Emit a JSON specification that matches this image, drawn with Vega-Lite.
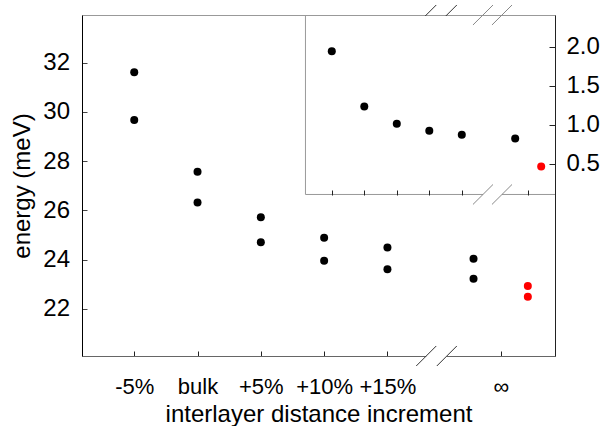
{
  "$schema": "https://vega.github.io/schema/vega-lite/v6.json",
  "width": 473,
  "height": 341,
  "autosize": "none",
  "padding": {"left": 82, "top": 15, "right": 48, "bottom": 70},
  "config": {
    "view": {"stroke": "#999999", "strokeWidth": 1},
    "font": "Liberation Sans",
    "axis": {"labelColor": "#000000", "titleColor": "#000000", "labelFont": "Liberation Sans", "titleFont": "Liberation Sans", "grid": false}
  },
  "datasets": {
    "main": [
      {"label": "-5%", "pos": 0, "energy": 31.62, "series": "calc"},
      {"label": "-5%", "pos": 0, "energy": 29.67, "series": "calc"},
      {"label": "bulk", "pos": 1, "energy": 27.57, "series": "calc"},
      {"label": "bulk", "pos": 1, "energy": 26.32, "series": "calc"},
      {"label": "+5%", "pos": 2, "energy": 25.72, "series": "calc"},
      {"label": "+5%", "pos": 2, "energy": 24.71, "series": "calc"},
      {"label": "+10%", "pos": 3, "energy": 24.89, "series": "calc"},
      {"label": "+10%", "pos": 3, "energy": 23.95, "series": "calc"},
      {"label": "+15%", "pos": 4, "energy": 24.49, "series": "calc"},
      {"label": "+15%", "pos": 4, "energy": 23.61, "series": "calc"},
      {"label": "∞", "pos": 5.36, "energy": 24.03, "series": "calc"},
      {"label": "∞", "pos": 5.36, "energy": 23.22, "series": "calc"},
      {"label": "∞", "pos": 6.218, "energy": 22.93, "series": "ref"},
      {"label": "∞", "pos": 6.218, "energy": 22.49, "series": "ref"}
    ],
    "inset": [
      {"label": "-5%", "pos": 0, "energy": 1.94, "series": "calc"},
      {"label": "bulk", "pos": 1, "energy": 1.23, "series": "calc"},
      {"label": "+5%", "pos": 2, "energy": 1.01, "series": "calc"},
      {"label": "+10%", "pos": 3, "energy": 0.92, "series": "calc"},
      {"label": "+15%", "pos": 4, "energy": 0.87, "series": "calc"},
      {"label": "∞", "pos": 5.643, "energy": 0.82, "series": "calc"},
      {"label": "∞", "pos": 6.443, "energy": 0.46, "series": "ref"}
    ],
    "mainBreaks": [
      {"xa": 4.455, "xb": 4.771, "ya": 19.675, "yb": 20.488},
      {"xa": 4.78, "xb": 5.096, "ya": 19.675, "yb": 20.488},
      {"xa": 4.455, "xb": 4.771, "ya": 33.537, "yb": 34.35},
      {"xa": 4.78, "xb": 5.096, "ya": 33.537, "yb": 34.35}
    ],
    "mainGap": [{"xa": 4.613, "xb": 4.938, "ya": 20.081}],
    "insetBox": [{"xa": -0.81, "xb": 6.85, "ya": 0.103, "yb": 2.39}],
    "insetLeft": [{"xa": -0.81, "ya": 0.103, "yb": 2.404}],
    "insetBottom": [{"xa": -0.81, "xb": 6.868, "ya": 0.103}],
    "insetGap": [{"xa": 4.652, "xb": 5.237, "ya": 0.103}],
    "insetBreaks": [
      {"xa": 4.344, "xb": 4.96, "ya": 2.276, "yb": 2.532},
      {"xa": 4.929, "xb": 5.545, "ya": 2.276, "yb": 2.532},
      {"xa": 4.344, "xb": 4.96, "ya": -0.025, "yb": 0.231},
      {"xa": 4.929, "xb": 5.545, "ya": -0.025, "yb": 0.231}
    ]
  },
  "layer": [
    {
      "layer": [
        {
          "data": {"name": "mainGap"},
          "mark": {"type": "rule", "color": "#ffffff", "strokeWidth": 3},
          "encoding": {
            "x": {
              "field": "xa", "type": "quantitative",
              "scale": {"domain": [-0.825, 6.647], "nice": false, "zero": false},
              "axis": {
                "orient": "bottom",
                "values": [0, 1, 2, 3, 4, 5.79],
                "labelExpr": "datum.value < 0.5 ? '-5%' : datum.value < 1.5 ? 'bulk' : datum.value < 2.5 ? '+5%' : datum.value < 3.5 ? '+10%' : datum.value < 4.5 ? '+15%' : '∞'",
                "domainColor": "#666666",
                "ticks": true,
                "tickColor": "#222222",
                "tickWidth": 1,
                "tickSize": -5,
                "labelFontSize": 22,
                "labelBaseline": "alphabetic",
                "labelPadding": 42,
                "labelFlush": false,
                "labelOverlap": false,
                "title": "interlayer distance increment",
                "titleFontSize": 24,
                "titleFontWeight": "normal",
                "titleX": 236.5,
                "titleY": 65,
                "titleBaseline": "alphabetic",
                "titleAlign": "center"
              }
            },
            "x2": {"field": "xb"},
            "y": {
              "field": "ya", "type": "quantitative",
              "scale": {"domain": [20.081, 33.943], "nice": false, "zero": false},
              "axis": {
                "orient": "left",
                "values": [22, 24, 26, 28, 30, 32],
                "domainColor": "#000000",
                "ticks": true,
                "tickColor": "#444444",
                "tickWidth": 1,
                "tickSize": -5,
                "labelFontSize": 24,
                "labelPadding": 17.5,
                "labelOverlap": false,
                "title": "energy (meV)",
                "titleFontSize": 24,
                "titleFontWeight": "normal",
                "titleX": -60,
                "titleY": 170.5,
                "titleBaseline": "middle",
                "titleAlign": "center",
                "titleAngle": -90
              }
            }
          }
        },
        {
          "data": {"name": "mainBreaks"},
          "mark": {"type": "rule", "color": "#333333", "strokeWidth": 1},
          "encoding": {
            "x": {"field": "xa", "type": "quantitative", "scale": {"domain": [-0.825, 6.647], "nice": false, "zero": false}},
            "x2": {"field": "xb"},
            "y": {"field": "ya", "type": "quantitative", "scale": {"domain": [20.081, 33.943], "nice": false, "zero": false}},
            "y2": {"field": "yb"}
          }
        },
        {
          "data": {"name": "main"},
          "mark": {"type": "circle", "size": 64, "opacity": 1},
          "encoding": {
            "x": {"field": "pos", "type": "quantitative", "scale": {"domain": [-0.825, 6.647], "nice": false, "zero": false}},
            "y": {"field": "energy", "type": "quantitative", "scale": {"domain": [20.081, 33.943], "nice": false, "zero": false}},
            "color": {"field": "series", "type": "nominal", "scale": {"domain": ["calc", "ref"], "range": ["#000000", "#ff0000"]}, "legend": null}
          }
        }
      ]
    },
    {
      "layer": [
        {
          "data": {"name": "insetBox"},
          "mark": {"type": "rect", "color": "#ffffff", "opacity": 1},
          "encoding": {
            "x": {
              "field": "xa", "type": "quantitative",
              "scale": {"domain": [-7.686, 6.868], "nice": false, "zero": false},
              "axis": {
                "orient": "top",
                "offset": -180,
                "values": [0, 1, 2, 3, 4, 6.05],
                "labels": false,
                "domain": false,
                "ticks": true,
                "tickColor": "#222222",
                "tickWidth": 1,
                "tickSize": 5,
                "title": null,
                "zindex": 1
              }
            },
            "x2": {"field": "xb"},
            "y": {
              "field": "ya", "type": "quantitative",
              "scale": {"domain": [-1.968, 2.404], "nice": false, "zero": false},
              "axis": {
                "orient": "right",
                "values": [0.5, 1, 1.5, 2],
                "format": ".1f",
                "domainColor": "#222222",
                "ticks": true,
                "tickColor": "#222222",
                "tickWidth": 1,
                "tickSize": -6,
                "labelFontSize": 24,
                "labelPadding": 17,
                "labelOverlap": false,
                "title": null,
                "zindex": 1
              }
            },
            "y2": {"field": "yb"}
          }
        },
        {
          "data": {"name": "insetLeft"},
          "mark": {"type": "rule", "color": "#999999", "strokeWidth": 1},
          "encoding": {
            "x": {"field": "xa", "type": "quantitative", "scale": {"domain": [-7.686, 6.868], "nice": false, "zero": false}},
            "y": {"field": "ya", "type": "quantitative", "scale": {"domain": [-1.968, 2.404], "nice": false, "zero": false}},
            "y2": {"field": "yb"}
          }
        },
        {
          "data": {"name": "insetBottom"},
          "mark": {"type": "rule", "color": "#999999", "strokeWidth": 1},
          "encoding": {
            "x": {"field": "xa", "type": "quantitative", "scale": {"domain": [-7.686, 6.868], "nice": false, "zero": false}},
            "x2": {"field": "xb"},
            "y": {"field": "ya", "type": "quantitative", "scale": {"domain": [-1.968, 2.404], "nice": false, "zero": false}}
          }
        },
        {
          "data": {"name": "insetGap"},
          "mark": {"type": "rule", "color": "#ffffff", "strokeWidth": 3},
          "encoding": {
            "x": {"field": "xa", "type": "quantitative", "scale": {"domain": [-7.686, 6.868], "nice": false, "zero": false}},
            "x2": {"field": "xb"},
            "y": {"field": "ya", "type": "quantitative", "scale": {"domain": [-1.968, 2.404], "nice": false, "zero": false}}
          }
        },
        {
          "data": {"name": "insetBreaks"},
          "mark": {"type": "rule", "color": "#888888", "strokeWidth": 1},
          "encoding": {
            "x": {"field": "xa", "type": "quantitative", "scale": {"domain": [-7.686, 6.868], "nice": false, "zero": false}},
            "x2": {"field": "xb"},
            "y": {"field": "ya", "type": "quantitative", "scale": {"domain": [-1.968, 2.404], "nice": false, "zero": false}},
            "y2": {"field": "yb"}
          }
        },
        {
          "data": {"name": "inset"},
          "mark": {"type": "circle", "size": 64, "opacity": 1},
          "encoding": {
            "x": {"field": "pos", "type": "quantitative", "scale": {"domain": [-7.686, 6.868], "nice": false, "zero": false}},
            "y": {"field": "energy", "type": "quantitative", "scale": {"domain": [-1.968, 2.404], "nice": false, "zero": false}},
            "color": {"field": "series", "type": "nominal", "scale": {"domain": ["calc", "ref"], "range": ["#000000", "#ff0000"]}, "legend": null}
          }
        }
      ]
    }
  ],
  "resolve": {
    "scale": {"x": "independent", "y": "independent"},
    "axis": {"x": "independent", "y": "independent"}
  }
}
